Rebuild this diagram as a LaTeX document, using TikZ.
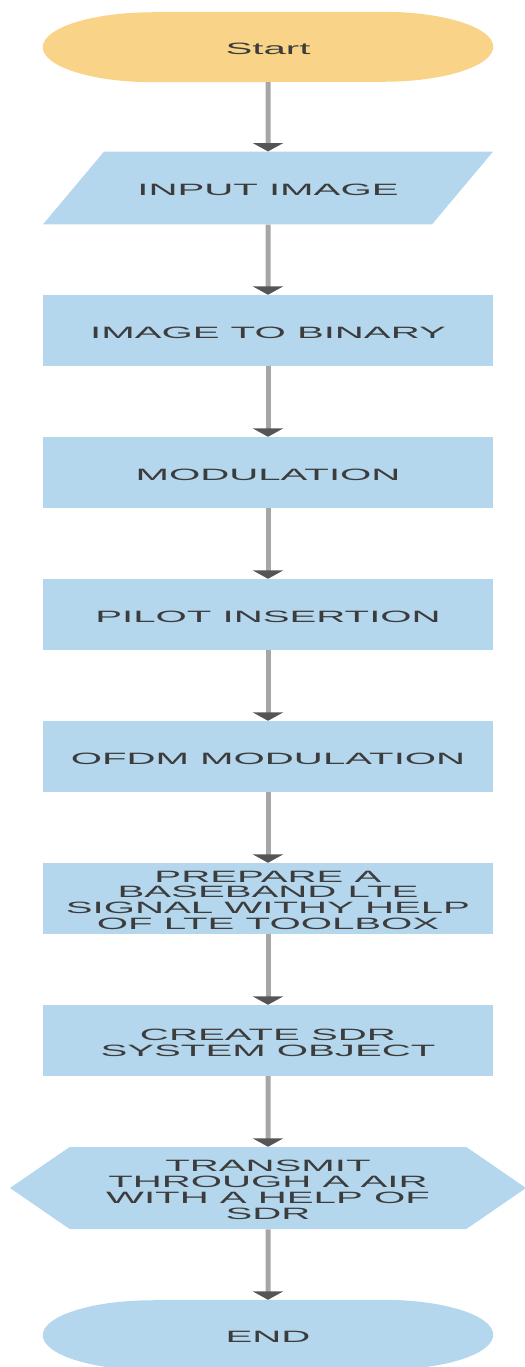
\documentclass[tikz,border=0pt]{standalone}
\usepackage{fontspec}
\setmainfont{Liberation Sans}
\usepackage{graphicx}
\usetikzlibrary{arrows.meta, shapes.geometric, shapes.symbols, backgrounds}

\definecolor{startfill}{HTML}{F9D488}
\definecolor{boxfill}{HTML}{B4D7EE}
\definecolor{linegray}{HTML}{A6A6A6}
\definecolor{headgray}{HTML}{555555}
\definecolor{textgray}{HTML}{3C3C3C}

\newcommand{\wtxt}[1]{\raisebox{-3.5pt}[\height][\depth]{\scalebox{2.45}[1]{\begin{tabular}{@{}c@{}}#1\end{tabular}}}}

\tikzset{
	every node/.style = {font = \fontsize{14}{12.9}\selectfont, text = textgray, inner sep = 0pt},
	procbox/.style = {rectangle, fill = boxfill, minimum width = 13.5cm, minimum height = 2.13cm},
	iobox/.style = {trapezium, trapezium left angle = 50, trapezium right angle = 130, trapezium stretches body, inner ysep = 0.85cm, fill = boxfill, minimum width = 13.5cm, minimum height = 2.16cm},
	sendbox/.style = {signal, signal to = west and east, signal pointer angle = 69, fill = boxfill, minimum width = 15.48cm, minimum height = 2.46cm},
	termbox/.style = {rectangle, minimum width = 13.5cm, minimum height = 2.1cm},
	flow/.style = {draw = linegray, line width = 0.15cm, -{Triangle[width = 0.9cm, length = 0.25cm, color = headgray]}}
}

\begin{document}
\begin{tikzpicture}
			\def\cx{8.04};
			\def\rx{3.3};
			\def\ry{1.05};

			\useasboundingbox (0,0) rectangle (15.72,-41.01);

			\begin{scope}
				\node[termbox] (start) at (\cx,-1.41) {\wtxt{Start}};
				\node[iobox] (input) at (\cx,-5.64) {\wtxt{INPUT IMAGE}};
				\node[procbox] (tobin) at (\cx,-9.915) {\wtxt{IMAGE TO BINARY}};
				\node[procbox] (mod) at (\cx,-14.175) {\wtxt{MODULATION}};
				\node[procbox] (pilot) at (\cx,-18.435) {\wtxt{PILOT INSERTION}};
				\node[procbox] (ofdm) at (\cx,-22.695) {\wtxt{OFDM MODULATION}};
				\node[procbox] (lte) at (\cx,-26.955) {\wtxt{PREPARE A\\BASEBAND LTE\\SIGNAL WITHY HELP\\OF LTE TOOLBOX}};
				\node[procbox] (sdrobj) at (\cx,-31.215) {\wtxt{CREATE SDR\\SYSTEM OBJECT}};
				\node[sendbox] (send) at (\cx,-35.64) {\wtxt{TRANSMIT\\THROUGH A AIR\\WITH A HELP OF\\SDR}};
				\node[termbox] (end) at (\cx,-40.05) {\wtxt{END}};
			\end{scope}

			\begin{scope}[on background layer]
				\fill[startfill] ([xshift = \rx cm]start.north west) -- ([xshift = -\rx cm]start.north east) arc[start angle = 90, end angle = -90, x radius = \rx, y radius = \ry] -- ([xshift = \rx cm]start.south west) arc[start angle = 270, end angle = 90, x radius = \rx, y radius = \ry] -- cycle;
				\fill[boxfill] ([xshift = \rx cm]end.north west) -- ([xshift = -\rx cm]end.north east) arc[start angle = 90, end angle = -90, x radius = \rx, y radius = \ry] -- ([xshift = \rx cm]end.south west) arc[start angle = 270, end angle = 90, x radius = \rx, y radius = \ry] -- cycle;
			\end{scope}

			\begin{scope}[flow]
				\draw (start) -- (input);
				\draw (input) -- (tobin);
				\draw (tobin) -- (mod);
				\draw (mod) -- (pilot);
				\draw (pilot) -- (ofdm);
				\draw (ofdm) -- (lte);
				\draw (lte) -- (sdrobj);
				\draw (sdrobj) -- (send);
				\draw (send) -- (end);
			\end{scope}
		\end{tikzpicture}
\end{document}
